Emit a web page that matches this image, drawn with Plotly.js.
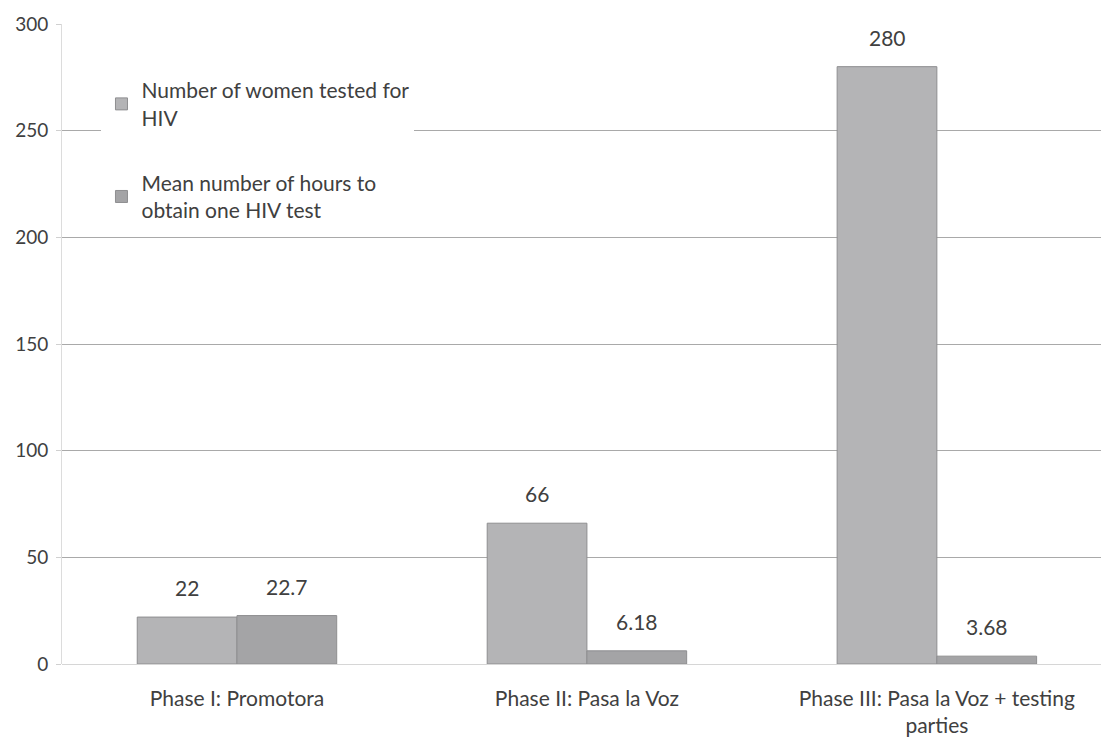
<!DOCTYPE html>
<html>
<head>
<meta charset="utf-8">
<script src="https://cdn.plot.ly/plotly-3.0.1.min.js"></script>
<style>html,body{margin:0;padding:0;background:#fff;}#chart{width:1101px;height:738px;}</style>
</head>
<body>
<div id="chart"></div>
<script>
const categories = ["Phase I: Promotora", "Phase II: Pasa la Voz", "Phase III: Pasa la Voz + testing<br>parties"];
const womenTested = [22, 66, 280];
const meanHours = [22.7, 6.18, 3.68];
const womenLabels = ["22", "66", "280"];
const hoursLabels = ["22.7", "6.18", "3.68"];
const seriesNames = ["Number of women tested for<br>HIV", "Mean number of hours to<br>obtain one HIV test"];
const yTicks = [0, 50, 100, 150, 200, 250, 300];

const FONT = "Lato, 'Open Sans', sans-serif";
const TXT = "#404040";
const bargap = 0.43;
const barW = (1 - bargap) / 2;

const traces = [
  {type: "bar", name: seriesNames[0], x: [0,1,2], y: womenTested, legendgroup: "a",
   marker: {color: "#b4b4b6", line: {color: "#8e8e90", width: 1}}, hoverinfo: "y"},
  {type: "bar", name: seriesNames[1], x: [0,1,2], y: meanHours, legendgroup: "b",
   marker: {color: "#a4a4a6", line: {color: "#8e8e90", width: 1}}, hoverinfo: "y"}
];

const annotations = [];
[[womenTested, womenLabels, -1], [meanHours, hoursLabels, 1]].forEach(([vals, labs, side]) => {
  vals.forEach((v, i) => {
    annotations.push({x: i + side * barW / 2, y: v, xref: "x", yref: "y", text: labs[i],
      showarrow: false, yanchor: "bottom", yshift: 15, font: {family: FONT, size: 21, color: TXT}});
  });
});

const layout = {
  width: 1101, height: 738,
  margin: {l: 62, r: 0, t: 24, b: 74},
  paper_bgcolor: "#ffffff", plot_bgcolor: "#ffffff",
  barmode: "group", bargap: bargap, bargroupgap: 0,
  font: {family: FONT, size: 17, color: TXT},
  xaxis: {range: [-0.5, 2.469], tickmode: "array", tickvals: [0,1,2], ticktext: categories,
    showgrid: false, zeroline: false, showline: false, ticks: "", tickfont: {size: 21, color: TXT},
    ticklabelstandoff: 20},
  yaxis: {range: [0, 300], tickmode: "array", tickvals: yTicks, showgrid: true, gridcolor: "#a9a9a9", gridwidth: 1,
    zeroline: true, zerolinecolor: "#d6d6d6", showline: true, linecolor: "#dcdcdc", ticks: "outside", ticklen: 5, tickcolor: "#d0d0d0",
    tickfont: {size: 19, color: TXT}, ticklabelstandoff: 4},
  legend: {x: 0.038, y: 0.928, xanchor: "left", yanchor: "top", bgcolor: "#ffffff", traceorder: "grouped", tracegroupgap: 35,
    font: {family: FONT, size: 21, color: TXT}, itemwidth: 30},
  annotations: annotations,
  showlegend: true
};

Plotly.newPlot("chart", traces, layout, {displayModeBar: false, staticPlot: true});
</script>
</body>
</html>
